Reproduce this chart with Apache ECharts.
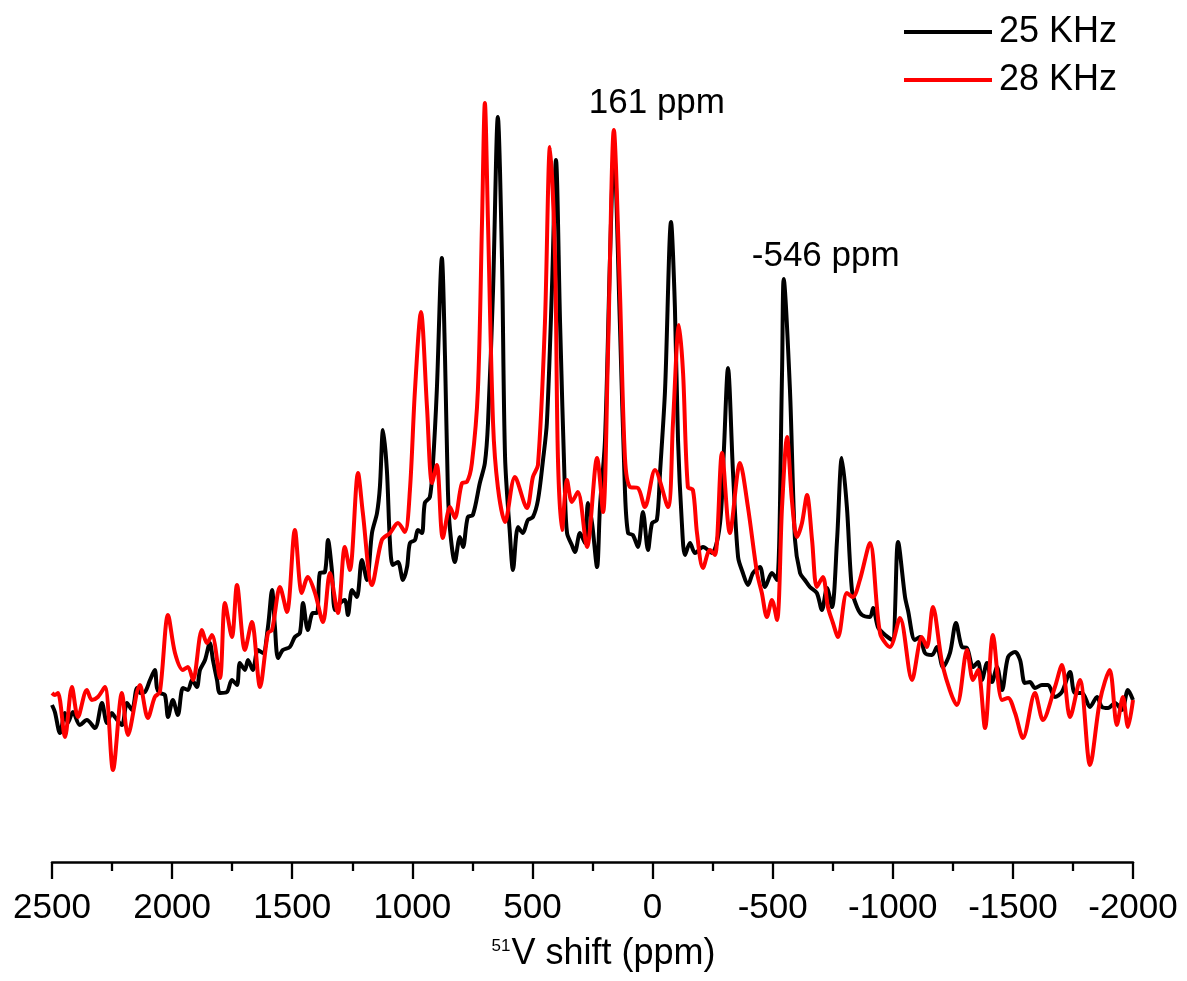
<!DOCTYPE html>
<html>
<head>
<meta charset="utf-8">
<script src="https://cdn.jsdelivr.net/npm/echarts@6/dist/echarts.min.js"></script>
<style>
html,body{margin:0;padding:0;background:#fff;}
#chart{width:1187px;height:981px;}
</style>
</head>
<body>
<div id="chart"></div>
<script>
// x: 51V shift (ppm); y: intensity (arbitrary units)
const blackPpm = [2500,2488,2467,2446,2434,2413,2384,2355,2321,2292,2271,2251,2238,2209,2188,2167,2146,2134,2113,2092,2072,2063,2051,2030,2017,1997,1976,1955,1934,1917,1897,1884,1863,1843,1830,1813,1801,1772,1751,1730,1718,1697,1684,1664,1643,1622,1601,1584,1572,1559,1539,1510,1489,1468,1455,1435,1414,1397,1385,1364,1351,1335,1322,1301,1281,1268,1251,1231,1210,1189,1168,1147,1135,1122,1106,1093,1081,1060,1039,1022,1010,989,977,960,948,927,914,898,877,864,852,843,823,802,789,769,748,719,698,685,664,644,627,614,594,581,560,540,519,498,477,456,440,419,402,385,365,356,336,323,302,281,269,252,231,219,198,177,161,136,115,102,82,61,40,19,2,-18,-31,-52,-77,-93,-106,-122,-135,-156,-177,-210,-247,-281,-297,-314,-335,-356,-376,-397,-418,-447,-468,-497,-518,-539,-546,-572,-593,-614,-634,-655,-684,-705,-726,-747,-768,-788,-809,-830,-851,-872,-905,-918,-938,-959,-997,-1022,-1051,-1063,-1092,-1113,-1134,-1163,-1184,-1209,-1238,-1263,-1288,-1309,-1334,-1355,-1371,-1392,-1413,-1434,-1455,-1480,-1509,-1530,-1550,-1571,-1592,-1621,-1646,-1675,-1704,-1738,-1758,-1788,-1821,-1850,-1871,-1896,-1925,-1954,-1979,-2000];
const blackInt = [157,150,129,149,139,150,137,142,134,159,139,149,145,137,159,152,174,169,170,182,192,174,169,167,145,162,147,174,172,182,175,192,202,219,202,182,169,170,182,177,199,192,202,192,212,209,235,272,235,204,212,215,225,229,259,232,249,249,289,290,322,292,252,259,262,247,272,265,302,282,329,349,375,432,392,319,297,300,282,295,319,322,332,329,359,365,399,472,604,505,372,332,300,325,315,345,347,379,399,439,572,745,605,405,329,292,335,329,342,345,362,402,439,572,702,539,372,329,317,310,329,319,359,339,295,355,422,605,712,539,372,329,327,315,350,312,339,342,389,472,640,555,422,339,307,319,309,315,309,339,412,494,389,305,289,277,289,295,275,289,282,489,583,472,322,289,282,275,269,252,274,255,322,404,355,272,255,247,245,254,235,229,222,320,265,252,222,225,209,207,215,195,209,239,215,214,195,200,182,199,180,195,172,205,210,202,179,180,174,177,177,165,170,190,169,169,155,165,155,154,159,152,172,162];
const redPpm = [2500,2488,2475,2446,2417,2392,2355,2334,2309,2280,2246,2209,2184,2134,2101,2072,2051,2017,1988,1955,1934,1913,1876,1855,1834,1801,1780,1751,1730,1697,1668,1634,1601,1584,1551,1522,1489,1460,1435,1405,1372,1343,1310,1281,1260,1226,1206,1168,1127,1093,1060,1031,1010,989,964,939,918,898,873,843,823,793,773,752,727,710,698,685,664,644,614,573,523,498,477,448,427,406,394,377,356,336,311,273,231,206,186,161,136,115,94,61,32,-10,-64,-85,-110,-127,-147,-168,-185,-210,-239,-260,-289,-322,-364,-397,-435,-455,-476,-497,-518,-539,-560,-580,-601,-622,-643,-664,-684,-709,-730,-751,-772,-809,-834,-863,-905,-947,-988,-1030,-1080,-1121,-1142,-1167,-1209,-1267,-1309,-1334,-1355,-1384,-1417,-1455,-1480,-1509,-1542,-1592,-1625,-1675,-1704,-1738,-1779,-1821,-1863,-1903,-1933,-1958,-1979,-2000];
const redInt = [169,167,169,125,175,145,172,162,165,175,92,169,127,177,144,165,170,247,209,192,195,182,232,219,227,184,259,225,277,212,240,175,229,232,275,250,332,269,285,269,240,289,249,315,292,389,349,277,322,329,339,330,372,472,550,455,379,397,324,355,344,379,380,399,472,639,759,639,439,375,340,385,354,385,397,539,715,605,405,332,382,360,370,315,404,350,505,732,572,405,375,374,355,392,355,439,537,489,375,372,329,294,312,307,409,329,399,355,289,269,245,262,242,355,425,362,325,339,367,322,275,285,255,239,225,269,265,282,319,229,215,244,182,225,215,255,195,157,212,182,192,134,227,162,164,149,124,169,142,175,197,145,182,97,162,192,137,165,135,162];
const seriesNames = ['25 KHz', '28 KHz'];
const xTicks = {min: -2000, max: 2500, step: 500};
const annotations = [
  {text: '161 ppm', ppm: 161, value: 732, series: 1},
  {text: '-546 ppm', ppm: -546, value: 583, series: 0}
];

const pair = (xs, ys) => xs.map((x, i) => [x, ys[i]]);
const FONT = 'Liberation Sans, Arial, sans-serif';

const chart = echarts.init(document.getElementById('chart'), null, {renderer: 'canvas'});
const mk = (idx) => ({
  silent: true,
  symbol: 'circle',
  symbolSize: 0,
  data: annotations.filter(a => a.series === idx).map(a => ({
    coord: [a.ppm, a.value],
    label: {
      show: true, formatter: a.text, position: 'inside',
      offset: a.series === 1 ? [43, -27] : [42, -23],
      color: '#000', fontSize: 35, fontFamily: FONT
    }
  }))
});
chart.setOption({
  animation: false,
  backgroundColor: '#fff',
  grid: {left: 52, right: 54, top: 100, bottom: 119, containLabel: false},
  legend: {
    data: seriesNames,
    orient: 'vertical',
    left: 899, top: 9,
    icon: 'rect',
    itemWidth: 88, itemHeight: 4,
    itemGap: 12,
    textStyle: {fontSize: 36, fontFamily: FONT, color: '#000', lineHeight: 36, padding: [0,0,0,2]}
  },
  xAxis: {
    type: 'value',
    inverse: true,
    min: xTicks.min, max: xTicks.max, interval: xTicks.step,
    axisLine: {show: true, lineStyle: {color: '#000', width: 2.5}},
    axisTick: {show: true, length: 17, lineStyle: {color: '#000', width: 2.3}},
    minorTick: {show: true, splitNumber: 2, length: 9, lineStyle: {color: '#000', width: 2.3}},
    splitLine: {show: false},
    axisLabel: {color: '#000', fontSize: 35, fontFamily: FONT, margin: 29, formatter: (v) => String(v)},
    name: '{sup|51}{n|V shift (ppm)}',
    nameLocation: 'middle',
    nameGap: 74,
    nameTextStyle: {
      color: '#000', fontFamily: FONT, fontSize: 36,
      padding: [0, 0, 0, 22],
      rich: {
        sup: {fontSize: 17, fontFamily: FONT, color: '#000', padding: [0, 1, 16, 0]},
        n: {fontSize: 36, fontFamily: FONT, color: '#000'}
      }
    }
  },
  yAxis: {type: 'value', min: 0, max: 762, show: false},
  series: [
    {
      name: seriesNames[0], type: 'line', data: pair(blackPpm, blackInt),
      showSymbol: false, smooth: 0.3,
      lineStyle: {color: '#000', width: 4}, itemStyle: {color: '#000'},
      markPoint: mk(0)
    },
    {
      name: seriesNames[1], type: 'line', data: pair(redPpm, redInt),
      showSymbol: false, smooth: 0.3,
      lineStyle: {color: '#ff0000', width: 4}, itemStyle: {color: '#ff0000'},
      markPoint: mk(1)
    }
  ]
});
</script>
</body>
</html>
